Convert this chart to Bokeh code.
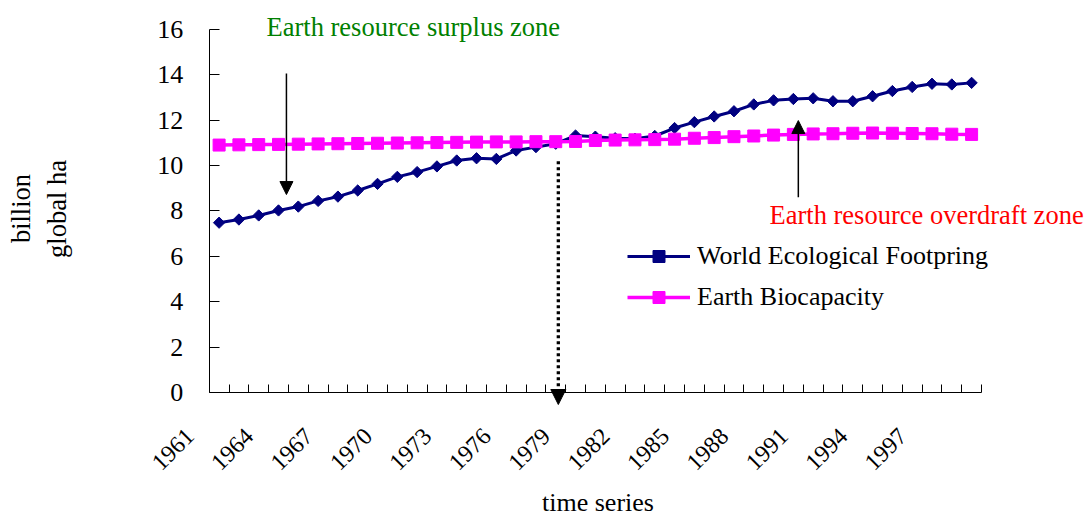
import math

from bokeh.core.properties import value
from bokeh.embed import file_html
from bokeh.models import (Arrow, ColumnDataSource, FixedTicker, Label, LabelSet,
                          Legend, LegendItem, NormalHead, Range1d)
from bokeh.plotting import figure
from bokeh.resources import INLINE

# ---- data -------------------------------------------------------------
years = list(range(1961, 2000))

footprint = [7.48, 7.62, 7.80, 8.02, 8.19, 8.44, 8.63, 8.90, 9.19, 9.50,
             9.71, 9.96, 10.22, 10.32, 10.29, 10.66, 10.81, 10.96, 11.32, 11.27,
             11.20, 11.18, 11.30, 11.65, 11.91, 12.16, 12.39, 12.69, 12.87, 12.93,
             12.96, 12.83, 12.83, 13.05, 13.28, 13.46, 13.60, 13.57, 13.64]

biocapacity = [10.90, 10.91, 10.92, 10.93, 10.94, 10.95, 10.96, 10.97, 10.98, 10.99,
               11.00, 11.01, 11.02, 11.03, 11.04, 11.04, 11.05, 11.05, 11.06, 11.10,
               11.12, 11.13, 11.14, 11.16, 11.20, 11.23, 11.27, 11.30, 11.34, 11.37,
               11.39, 11.40, 11.42, 11.43, 11.42, 11.41, 11.40, 11.38, 11.37]

label_years = [1961, 1964, 1967, 1970, 1973, 1976, 1979, 1982, 1985, 1988, 1991, 1994, 1997]
label_texts = ["1961", "1964", "1967", "1970", "1973", "1976", "1979",
               "1982", "1985", "1988", "1991", "1994", "1997"]
y_ticks = [0, 2, 4, 6, 8, 10, 12, 14, 16]
y_min, y_max = 0, 16

# year where the footprint overtakes the biocapacity
crossover_year = 1978.13

FONT = "Liberation Serif"
NAVY = "#000080"
MAGENTA = "#FF00FF"

W, H = 1086, 516
# pixel box of the axes inside the canvas
AX_LEFT, AX_RIGHT, AX_TOP, AX_BOTTOM = 208.7, 981.0, 28.8, 392.0

# category boundaries (one slot per year)
boundaries = [y - 0.5 for y in years] + [years[-1] + 0.5]

# the plotting frame covers the whole canvas so that texts outside the axes
# box are not clipped; the axes are pinned at their data positions
x_scale = (AX_RIGHT - AX_LEFT) / (boundaries[-1] - boundaries[0])
y_scale = (AX_BOTTOM - AX_TOP) / (y_max - y_min)
x0 = boundaries[0] - AX_LEFT / x_scale
y0 = y_min - (H - AX_BOTTOM) / y_scale

p = figure(width=W, height=H, output_backend="svg", toolbar_location=None,
           x_range=Range1d(x0, x0 + W / x_scale), y_range=Range1d(y0, y0 + H / y_scale),
           min_border=0)
p.outline_line_color = None
p.grid.grid_line_color = None
p.background_fill_color = "white"
p.border_fill_color = "white"

# x axis: a tick at every category boundary, labels drawn separately
xa = p.xaxis[0]
xa.fixed_location = y_min
xa.bounds = (boundaries[0], boundaries[-1])
xa.ticker = FixedTicker(ticks=boundaries)
xa.major_label_overrides = {b: "" for b in boundaries}
xa.major_tick_in = 8
xa.major_tick_out = 0
xa.minor_tick_line_color = None
xa.axis_line_color = "black"
xa.major_tick_line_color = "black"

ya = p.yaxis[0]
ya.fixed_location = boundaries[0]
ya.bounds = (y_min, y_max)
ya.ticker = FixedTicker(ticks=y_ticks)
ya.major_tick_in = 10
ya.major_tick_out = 0
ya.minor_tick_line_color = None
ya.axis_line_color = "black"
ya.major_tick_line_color = "black"
ya.major_label_text_font = FONT
ya.major_label_text_font_size = "26px"
ya.major_label_text_color = "black"
ya.major_label_standoff = 26

# ---- series -----------------------------------------------------------
l1 = p.line(years, footprint, line_color=NAVY, line_width=3)
s1 = p.scatter(years, footprint, marker="square", angle=math.pi / 4, size=8,
               fill_color=NAVY, line_color=NAVY)
l2 = p.line(years, biocapacity, line_color=MAGENTA, line_width=3.5)
s2 = p.scatter(years, biocapacity, marker="square", size=12,
               fill_color=MAGENTA, line_color=MAGENTA)

# ---- rotated year labels ----------------------------------------------
lab_src = ColumnDataSource(dict(x=label_years, y=[y_min] * len(label_years), text=label_texts))
p.add_layout(LabelSet(x="x", y="y", text="text", source=lab_src,
                      x_offset=-29, y_offset=-40, angle=math.pi / 4,
                      text_align="right", text_baseline="middle",
                      text_font=value(FONT), text_font_size=value("24px"),
                      text_color="black"))

# ---- legend -----------------------------------------------------------
legend = Legend(items=[LegendItem(label="World Ecological Footpring", renderers=[l1, s1]),
                       LegendItem(label="Earth Biocapacity", renderers=[l2, s2])],
                location=(627, H - 312), orientation="vertical",
                glyph_width=63, glyph_height=30, label_height=30, spacing=11,
                padding=0, margin=0, label_standoff=7,
                border_line_color=None, background_fill_alpha=0,
                label_text_font=FONT, label_text_font_size="26px",
                label_text_color="black")
p.add_layout(legend)

# ---- zone annotations -------------------------------------------------
def screen_label(x, y, text, **kw):
    """Text placed in canvas pixels measured from the top-left corner."""
    opts = dict(text_font=FONT, text_font_size="26.5px", text_color="black",
                text_align="left", text_baseline="alphabetic")
    opts.update(kw)
    p.add_layout(Label(x=x, y=H - y, x_units="screen", y_units="screen", text=text, **opts))

screen_label(266, 26, "Earth resource surplus zone", text_color="#008000")
screen_label(769, 214, "Earth resource overdraft zone", text_color="#FF0000")

p.add_layout(Arrow(x_start=1964.4, y_start=14.05, x_end=1964.4, y_end=8.72,
                   line_color="black", line_width=1.5,
                   end=NormalHead(size=13, fill_color="black", line_color="black", line_width=1)))
p.add_layout(Arrow(x_start=1990.25, y_start=8.6, x_end=1990.25, y_end=11.98,
                   line_color="black", line_width=1.5,
                   end=NormalHead(size=13, fill_color="black", line_color="black", line_width=1)))
p.add_layout(Arrow(x_start=crossover_year, y_start=10.19, x_end=crossover_year, y_end=-0.53,
                   line_color="black", line_width=3.3, line_dash="3 3",
                   end=NormalHead(size=15, fill_color="black", line_color="black", line_width=1)))

# ---- axis titles ------------------------------------------------------
screen_label(20, 208, "billion", angle=math.pi / 2, text_align="center")
screen_label(56, 208.5, "global ha", angle=math.pi / 2, text_align="center")
screen_label(597.5, 502, "time series", text_font_size="26px", text_align="center")

with open("out.html", "w") as f:
    f.write(file_html(p, INLINE))
